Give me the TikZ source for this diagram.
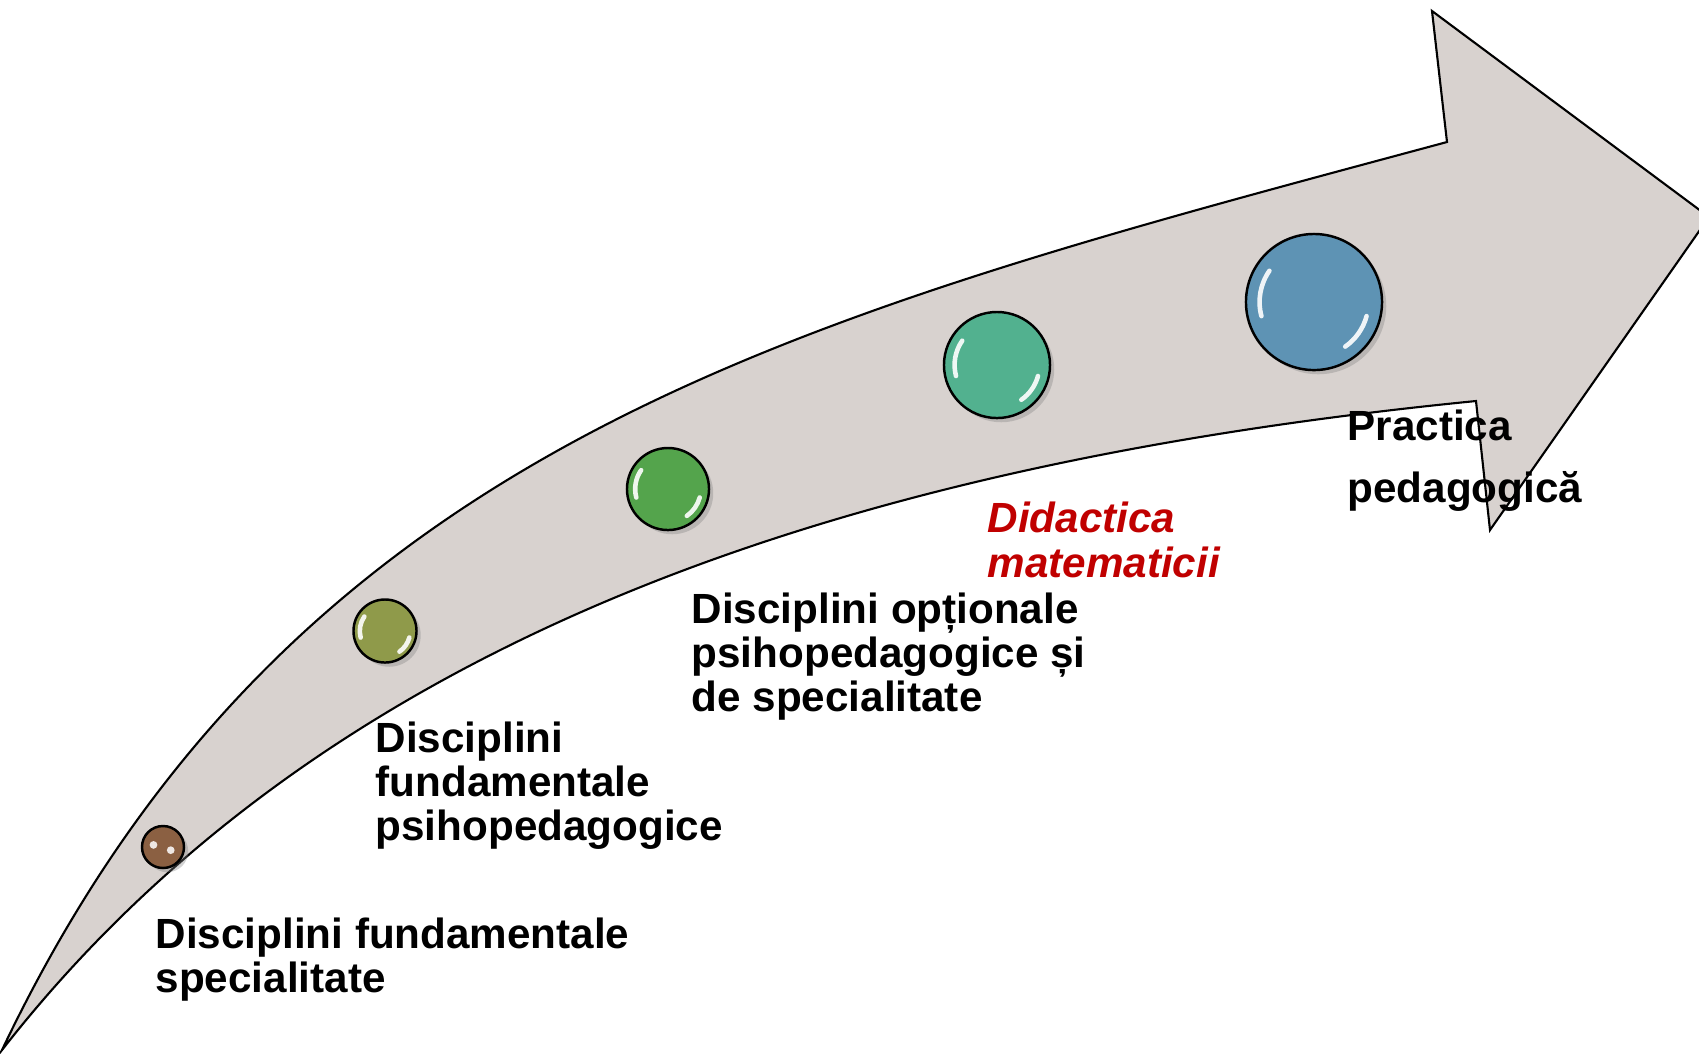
\documentclass[tikz,border=0pt]{standalone}
\usepackage{fontspec}
\setmainfont{Liberation Sans}
\usetikzlibrary{shadows,calc}

\definecolor{bandgray}{RGB}{216,210,207}
\definecolor{ballbrown}{RGB}{139,96,66}
\definecolor{ballolive}{RGB}{143,154,74}
\definecolor{ballgreen}{RGB}{84,164,76}
\definecolor{ballteal}{RGB}{82,177,143}
\definecolor{ballblue}{RGB}{94,147,180}
\definecolor{didred}{RGB}{192,0,0}

\begin{document}
\begin{tikzpicture}[x=0.01cm, y=-0.01cm,
    ball/.style={circle, draw=black, line width=0.7pt, inner sep=0pt,
      drop shadow={shadow xshift=1.2pt, shadow yshift=-1.2pt, opacity=0.35}},
    glossy/.style={path picture={\draw[white, opacity=0.9, line width=1.3pt, line cap=round]
        let \p1=(path picture bounding box.east), \p2=(path picture bounding box.center),
            \n1={veclen(\x1-\x2,\y1-\y2)*0.8} in
        ([shift={(145:\n1)}]\p2) arc[start angle=145, end angle=195, radius=\n1]
        ([shift={(-15:\n1)}]\p2) arc[start angle=-15, end angle=-55, radius=\n1];}},
    pearl/.style={path picture={\fill[white!85!ballbrown]
        ([shift={(-2.7pt,0.6pt)}]path picture bounding box.center) circle[radius=1.1pt]
        ([shift={(2.2pt,-0.9pt)}]path picture bounding box.center) circle[radius=1.1pt];}},
    stagetext/.style={anchor=base west, inner sep=0pt, align=left,
      font=\bfseries\fontsize{12}{12.4}\selectfont}]
\useasboundingbox (0,0) rectangle (1699,1053);

\filldraw[fill=bandgray, draw=black, line width=0.6pt]
  (2,1050) .. controls (292,441) and (797,317) .. (1447,142)
  -- (1432,11) -- (1709,217) -- (1490,530) -- (1476,401)
  .. controls (851,463) and (327,634) .. (2,1050) -- cycle;

\node[ball, pearl, fill=ballbrown, minimum size=0.42cm] (dotSpec) at (163,847) {};
\node[ball, glossy, fill=ballolive, minimum size=0.63cm] (dotPsy) at (385,631) {};
\node[ball, glossy, fill=ballgreen, minimum size=0.82cm] (dotOpt) at (668,489) {};
\node[ball, glossy, fill=ballteal, minimum size=1.06cm] (dotDid) at (997,365) {};
\node[ball, glossy, fill=ballblue, minimum size=1.36cm] (dotPract) at (1314,302) {};

\node[stagetext] (txtSpec) at (155,992) {Disciplini fundamentale\\specialitate};
\node[stagetext] (txtPsy) at (375,840) {Disciplini\\fundamentale\\psihopedagogice};
\node[stagetext] (txtOpt) at (691,711) {Disciplini opționale\\psihopedagogice și\\de specialitate};
\node[stagetext, text=didred, font=\bfseries\itshape\fontsize{12}{12.8}\selectfont] (txtDid) at (987,577) {Didactica\\matematicii};
\node[stagetext, font=\bfseries\fontsize{12}{17.4}\selectfont] (txtPract) at (1347,502) {Practica\\pedagogică};
\end{tikzpicture}
\end{document}
